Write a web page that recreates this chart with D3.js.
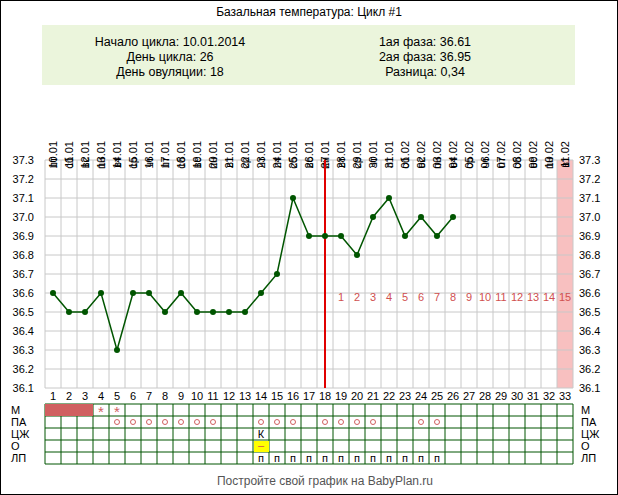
<!DOCTYPE html>
<html>
<head>
<meta charset="utf-8">
<script src="https://d3js.org/d3.v7.min.js"></script>
<style>
body { margin:0; background:#fff; font-family: "Liberation Sans", Arial, sans-serif; }
svg text { font-family: "Liberation Sans", Arial, sans-serif; }
</style>
</head>
<body>
<script>
var dates = ["10.01","11.01","12.01","13.01","14.01","15.01","16.01","17.01","18.01","19.01","20.01","21.01","22.01","23.01","24.01","25.01","26.01","27.01","28.01","29.01","30.01","31.01","01.02","02.02","03.02","04.02","05.02","06.02","07.02","08.02","09.02","10.02","11.02"];
var weekdays = ["пт","сб","вс","пн","вт","ср","чт"];
var temps = [36.6,36.5,36.5,36.6,36.3,36.6,36.6,36.5,36.6,36.5,36.5,36.5,36.5,36.6,36.7,37.1,36.9,36.9,36.9,36.8,37.0,37.1,36.9,37.0,36.9,37.0];
var yTicks = [36.1,36.2,36.3,36.4,36.5,36.6,36.7,36.8,36.9,37.0,37.1,37.2,37.3];
var ovulationDay = 18;
var mensDays = [1,2,3];
var starDays = [4,5];
var paDays = [5,6,7,8,9,10,11,14,15,16,18,19,20,21,24,25];
var czDays = [14];
var oDays = [14];
var lpDays = [14,15,16,17,18,19,20,21,22,23,24,25];
var rowLabels = ["М","ПА","ЦЖ","О","ЛП"];
var infoLeft = ["Начало цикла: 10.01.2014","День цикла: 26","День овуляции: 18"];
var infoRight = ["1ая фаза: 36.61","2ая фаза: 36.95","Разница: 0,34"];

var W = 618, H = 495, N = dates.length;
var svg = d3.select("body").append("svg").attr("width", W).attr("height", H);
svg.append("rect").attr("x",0.5).attr("y",0.5).attr("width",W-1).attr("height",H-1).attr("fill","#fff").attr("stroke","#000");

svg.append("text").attr("x",309).attr("y",16).attr("text-anchor","middle").attr("font-size",12).text("Базальная температура: Цикл #1");
svg.append("rect").attr("x",42).attr("y",25).attr("width",533).attr("height",60).attr("fill","#ebf5dc");
infoLeft.forEach(function(t,i){ svg.append("text").attr("x",170).attr("y",46+i*15).attr("text-anchor","middle").attr("font-size",12.5).text(t); });
infoRight.forEach(function(t,i){ svg.append("text").attr("x",425).attr("y",46+i*15).attr("text-anchor","middle").attr("font-size",12.5).text(t); });

var x = d3.scaleLinear().domain([0.5, N+0.5]).range([45, 573]);
var y = d3.scaleLinear().domain([36.1, 37.3]).range([388, 160]);
var cw = x(2)-x(1);

svg.append("rect").attr("x",x(N-0.5)).attr("y",y(37.3)).attr("width",cw).attr("height",y(36.1)-y(37.3)).attr("fill","#f8c0c0");

yTicks.forEach(function(v){
  svg.append("line").attr("x1",45).attr("x2",573).attr("y1",y(v)).attr("y2",y(v)).attr("stroke","#c8c8c8");
  svg.append("text").attr("x",34).attr("y",y(v)+4).attr("text-anchor","end").attr("font-size",11).text(v.toFixed(1));
  svg.append("text").attr("x",579).attr("y",y(v)+4).attr("font-size",11).text(v.toFixed(1));
});
d3.range(0, N+1).forEach(function(i){
  svg.append("line").attr("x1",x(i+0.5)).attr("x2",x(i+0.5)).attr("y1",y(37.3)).attr("y2",y(36.1)).attr("stroke","#c8c8c8");
});

dates.forEach(function(d,i){
  var cx = x(i+1);
  svg.append("text").attr("transform","translate("+(cx+4)+",141) rotate(-90)").attr("text-anchor","end").attr("font-size",11).text(d);
  svg.append("text").attr("transform","translate("+(cx+4)+",157) rotate(-90)").attr("text-anchor","end").attr("font-size",11).text(weekdays[i%7]);
  svg.append("text").attr("x",cx).attr("y",400).attr("text-anchor","middle").attr("font-size",11).text(i+1);
});

svg.append("line").attr("x1",x(ovulationDay)).attr("x2",x(ovulationDay)).attr("y1",y(37.3)).attr("y2",y(36.1)).attr("stroke","#e00000").attr("stroke-width",2);

d3.range(ovulationDay+1, N+1).forEach(function(d){
  svg.append("text").attr("x",x(d)).attr("y",y(36.58)+4).attr("text-anchor","middle").attr("font-size",11).attr("fill","#d05050").text(d-ovulationDay);
});

var line = d3.line().x(function(d,i){return x(i+1);}).y(function(d){return y(d);});
svg.append("path").attr("d",line(temps)).attr("fill","none").attr("stroke","#005500").attr("stroke-width",1.5);
svg.selectAll("circle.pt").data(temps).enter().append("circle").attr("class","pt")
  .attr("cx",function(d,i){return x(i+1);}).attr("cy",function(d){return y(d);}).attr("r",3).attr("fill","#005500");

var top0 = 404, rh = 12;
rowLabels.forEach(function(l,r){
  svg.append("text").attr("x",11).attr("y",top0+rh*r+10).attr("font-size",11).text(l);
  svg.append("text").attr("x",581).attr("y",top0+rh*r+10).attr("font-size",11).text(l);
});
d3.range(0,6).forEach(function(r){
  svg.append("line").attr("x1",45).attr("x2",573).attr("y1",top0+rh*r).attr("y2",top0+rh*r).attr("stroke","#005500");
});
d3.range(0,N+1).forEach(function(i){
  svg.append("line").attr("x1",x(i+0.5)).attr("x2",x(i+0.5)).attr("y1",top0).attr("y2",top0+rh*5).attr("stroke","#005500");
});
svg.append("rect").attr("x",x(mensDays[0]-0.5)).attr("y",top0).attr("width",cw*mensDays.length).attr("height",rh).attr("fill","#d06060");
oDays.forEach(function(d){
  svg.append("rect").attr("x",x(d-0.5)+1).attr("y",top0+rh*3+1).attr("width",cw-1).attr("height",rh-1).attr("fill","#ffff00");
  svg.append("text").attr("x",x(d)).attr("y",top0+rh*3+9).attr("text-anchor","middle").attr("font-size",11).attr("fill","#d05050").text("–");
});
starDays.forEach(function(d){ svg.append("text").attr("x",x(d)).attr("y",top0+13).attr("text-anchor","middle").attr("font-size",15).attr("fill","#d06060").text("*"); });
paDays.forEach(function(d){ svg.append("circle").attr("cx",x(d)).attr("cy",top0+rh+6).attr("r",2.5).attr("fill","none").attr("stroke","#d06060"); });
czDays.forEach(function(d){ svg.append("text").attr("x",x(d)).attr("y",top0+rh*2+10).attr("text-anchor","middle").attr("font-size",11).text("К"); });
lpDays.forEach(function(d){ svg.append("text").attr("x",x(d)).attr("y",top0+rh*4+10).attr("text-anchor","middle").attr("font-size",11).text("п"); });

svg.append("text").attr("x",325).attr("y",485).attr("text-anchor","middle").attr("font-size",12).attr("fill","#555").text("Постройте свой график на BabyPlan.ru");
</script>
</body>
</html>
